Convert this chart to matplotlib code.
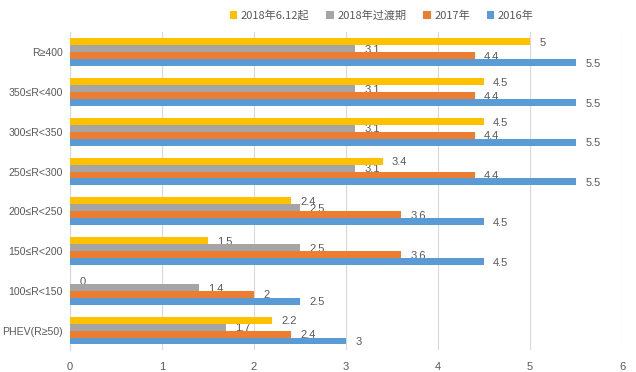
import matplotlib.pyplot as plt
import numpy as np

plt.rcParams['font.family'] = ['Noto Sans CJK SC', 'DejaVu Sans']
narrow = ['Liberation Sans', 'DejaVu Sans']

categories = ["R≥400", "350≤R<400", "300≤R<350", "250≤R<300",
              "200≤R<250", "150≤R<200", "100≤R<150", "PHEV(R≥50)"]
series = ["2018年6.12起", "2018年过渡期", "2017年", "2016年"]
v2018_new = [5, 4.5, 4.5, 3.4, 2.4, 1.5, 0, 2.2]
v2018_trans = [3.1, 3.1, 3.1, 3.1, 2.5, 2.5, 1.4, 1.7]
v2017 = [4.4, 4.4, 4.4, 4.4, 3.6, 3.6, 2, 2.4]
v2016 = [5.5, 5.5, 5.5, 5.5, 4.5, 4.5, 2.5, 3]
colors = ["#FFC000", "#A5A5A5", "#ED7D31", "#5B9BD5"]

values = [v2018_new, v2018_trans, v2017, v2016]
txt = "#595959"

fig = plt.figure(figsize=(6.36, 3.72), dpi=100)
ax = fig.add_axes([0.11, 0.058, 0.868, 0.855])

y = np.arange(len(categories))
h = 0.175
for i, (name, vals, c) in enumerate(zip(series, values, colors)):
    pos = y + (i - 1.5) * h
    ax.barh(pos, vals, height=h, color=c, label=name, zorder=3)
    for p, v in zip(pos, vals):
        ax.text(v + 0.1, p + 0.03, f"{v:g}", va="center", ha="left",
                fontsize=8, color=txt, zorder=2, family=narrow)

ax.set_ylim(len(categories) - 0.5, -0.5)
ax.set_xlim(0, 6)
ax.set_xticks(range(7))
ax.set_yticks(y)
ax.set_yticklabels(categories, family=narrow, fontsize=7.6)
ax.tick_params(axis="both", length=0, colors=txt)
ax.tick_params(axis="x", pad=8, labelsize=8)
ax.tick_params(axis="y", pad=5)
for lab in ax.get_xticklabels():
    lab.set_family(narrow)
ax.grid(axis="x", color="#D9D9D9", linewidth=0.8, zorder=0)
for s in ["top", "right", "bottom"]:
    ax.spines[s].set_visible(False)
ax.spines["left"].set_color("#D9D9D9")

fig.legend(loc="upper center", bbox_to_anchor=(0.6, 1.0), ncol=4, frameon=False,
           fontsize=8, handlelength=0.7, handleheight=0.7, columnspacing=1.5,
           handletextpad=0.3, labelcolor=txt)

fig.savefig("out.png", dpi=100)
